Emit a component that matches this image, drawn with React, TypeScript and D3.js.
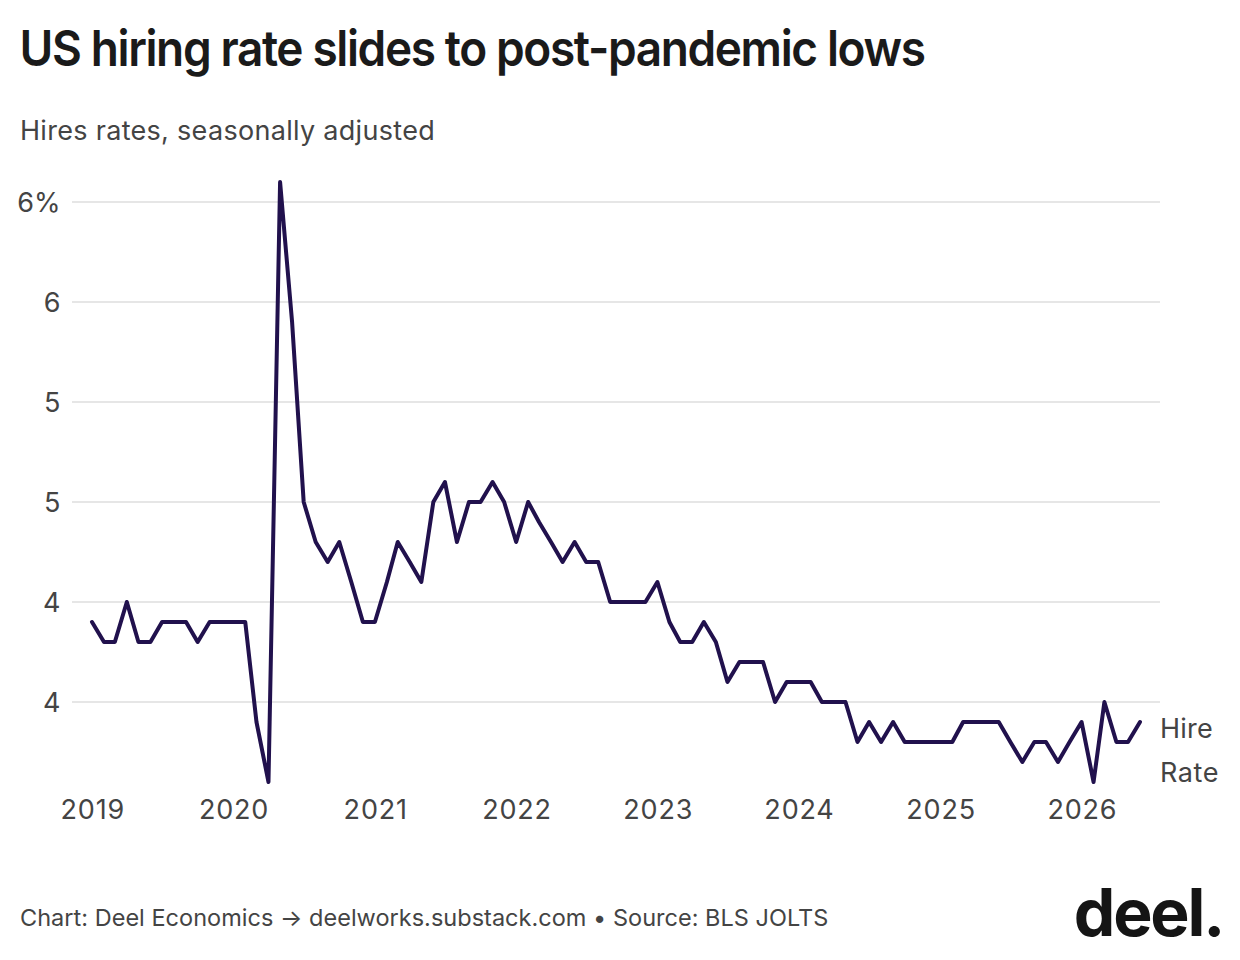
import React from "react";
import * as d3 from "d3";

const startYear = 2019;
const hireRate = [
  4.4, 4.3, 4.3, 4.5, 4.3, 4.3, 4.4, 4.4, 4.4, 4.3, 4.4, 4.4,
  4.4, 4.4, 3.9, 3.6, 6.6, 5.9, 5.0, 4.8, 4.7, 4.8, 4.6, 4.4,
  4.4, 4.6, 4.8, 4.7, 4.6, 5.0, 5.1, 4.8, 5.0, 5.0, 5.1, 5.0,
  4.8, 5.0, 4.9, 4.8, 4.7, 4.8, 4.7, 4.7, 4.5, 4.5, 4.5, 4.5,
  4.6, 4.4, 4.3, 4.3, 4.4, 4.3, 4.1, 4.2, 4.2, 4.2, 4.0, 4.1,
  4.1, 4.1, 4.0, 4.0, 4.0, 3.8, 3.9, 3.8, 3.9, 3.8, 3.8, 3.8,
  3.8, 3.8, 3.9, 3.9, 3.9, 3.9, 3.8, 3.7, 3.8, 3.8, 3.7, 3.8,
  3.9, 3.6, 4.0, 3.8, 3.8, 3.9,
];
const yTicks = [4, 4.5, 5, 5.5, 6, 6.5];
const yTickLabels = ["4", "4", "5", "5", "6", "6%"];
const xTickYears = [2019, 2020, 2021, 2022, 2023, 2024, 2025, 2026];

const FONT = "Inter, sans-serif";
const TEXT = "#444444";

export default function App() {
  const dates = hireRate.map((_, i) => new Date(startYear, i, 1));
  const x = d3.scaleTime().domain([dates[0], dates[dates.length - 1]]).range([92, 1140]);
  const y = d3.scaleLinear().domain([4, 6.5]).range([702, 202]);
  const line = d3
    .line<number>()
    .x((_, i) => x(dates[i]))
    .y((d) => y(d));

  return (
    <svg
      width={1240}
      height={960}
      viewBox="0 0 1240 960"
      style={{ position: "absolute", left: 0, top: 0, background: "#fff", fontFamily: FONT }}
    >
      <text
        transform="translate(19.5,66) scale(0.92,1)"
        fontSize={50}
        fontWeight={600}
        fill="#1a1a1a"
        letterSpacing={-1.5}
      >
        US hiring rate slides to post-pandemic lows
      </text>
      <text x={20} y={140} fontSize={27} fill={TEXT} letterSpacing={0.3}>
        Hires rates, seasonally adjusted
      </text>

      {yTicks.map((t, i) => (
        <g key={t}>
          <line x1={72} x2={1160} y1={y(t)} y2={y(t)} stroke="#e6e6e6" strokeWidth={2} />
          <text x={60.5} y={y(t) + 9.5} fontSize={27} fill={TEXT} textAnchor="end">
            {yTickLabels[i]}
          </text>
        </g>
      ))}

      <path
        d={line(hireRate) ?? ""}
        fill="none"
        stroke="#21114d"
        strokeWidth={4}
        strokeLinejoin="round"
        strokeLinecap="round"
      />

      {xTickYears.map((yr) => (
        <text key={yr} x={x(new Date(yr, 0, 1)) + 0.8} y={819} fontSize={27} fill={TEXT} textAnchor="middle" letterSpacing={0.8}>
          {yr}
        </text>
      ))}

      <text x={1160} y={738} fontSize={27} fill={TEXT} letterSpacing={0.2}>Hire</text>
      <text x={1160} y={782} fontSize={27} fill={TEXT} letterSpacing={0.6}>Rate</text>

      <text x={20} y={926} fontSize={23.5} fill={TEXT} letterSpacing={0.02}>
        Chart: Deel Economics → deelworks.substack.com • Source: BLS JOLTS
      </text>
      <text x={1223} y={936} fontSize={66} fontWeight={700} fill="#151515" textAnchor="end" letterSpacing={-2.2}>
        deel.
      </text>
    </svg>
  );
}
